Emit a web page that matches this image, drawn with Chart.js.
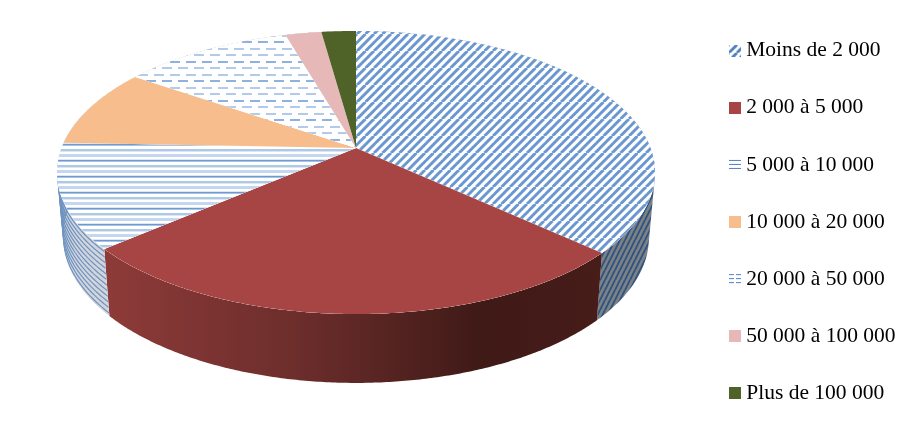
<!DOCTYPE html>
<html lang="fr">
<head>
<meta charset="utf-8">
<title>Répartition</title>
<style>html,body{margin:0;padding:0;background:#fff}#box{width:908px;height:422px;position:relative}</style>
<script src="https://cdn.jsdelivr.net/npm/chart.js@4/dist/chart.umd.min.js"></script>
</head>
<body>
<div id="box"><canvas id="c" width="908" height="422"></canvas></div>
<script>
const categories = ["Moins de 2 000","2 000 à 5 000","5 000 à 10 000","10 000 à 20 000","20 000 à 50 000","50 000 à 100 000","Plus de 100 000"];
const shares = [36.8, 26.9, 11.9, 9.0, 10.9, 2.3, 2.2];

function tile(w, h, paint) {
  const t = document.createElement('canvas'); t.width = w; t.height = h;
  paint(t.getContext('2d'), w, h);
  return t;
}
function diagTile(bg, fg, p, lw, hh, n) {
  return tile(p, hh, (g, w, h) => {
    g.fillStyle = bg; g.fillRect(0, 0, w, h);
    g.strokeStyle = fg; g.lineWidth = lw;
    const s = w / n;
    for (let i = -n; i <= n; i++) {
      g.beginPath(); g.moveTo(i * s, h); g.lineTo(i * s + w, 0); g.stroke();
    }
  });
}
const hatchTile = diagTile('#ffffff', '#6a97cf', 17, 3, 17, 2);
const wallHatchTile = diagTile('#7c8286', '#2f5380', 5, 1.9, 10, 1);
const linesTile = tile(8, 16, (g, w, h) => {
  g.fillStyle = '#fff'; g.fillRect(0, 0, w, h);
  [[0, 1, '#6d99d0'], [1, 1, '#a8c3e6'], [5, 2, '#aec8e8'], [7, 1, '#dbe6f4'], [10, 3, '#c5d7ee'], [15, 1, '#dbe6f4']].forEach(r => { g.fillStyle = r[2]; g.fillRect(0, r[0], w, r[1]); });
});
const dashTile = tile(16, 39, (g, w, h) => {
  g.fillStyle = '#fff'; g.fillRect(0, 0, w, h);
  const d = (x, y, c) => { g.fillStyle = c; g.fillRect(x, y, 10, 2); g.fillRect(x - 16, y, 10, 2); };
  [0, 1, 2, 3, 4, 5].forEach(r => {
    d(r % 2 ? 10 : 2, Math.round(r * 6.5) + 2, r % 3 === 0 ? '#8fb1dd' : '#b3cbe8');
  });
});

const ctx0 = document.getElementById('c').getContext('2d');
const pat = t => ctx0.createPattern(t, 'repeat');
const sliceFills = [pat(hatchTile), '#a64543', pat(linesTile), '#f7bd8d', pat(dashTile), '#e6b8b7', '#4f6228'];

const swatches = [
  tile(12, 12, (g) => { g.fillStyle = g.createPattern(diagTile('#ffffff', '#4f81bd', 8, 2.8, 8, 1), 'repeat'); g.fillRect(0, 0, 12, 12); }),
  tile(12, 12, (g) => { g.fillStyle = '#a64543'; g.fillRect(0, 0, 12, 12); }),
  tile(12, 12, (g) => { g.fillStyle = '#4f81bd'; [1, 5, 9].forEach(y => g.fillRect(0, y, 12, 1)); }),
  tile(12, 12, (g) => { g.fillStyle = '#f7bd8d'; g.fillRect(0, 0, 12, 12); }),
  tile(12, 12, (g) => { g.fillStyle = '#4f81bd'; [[0, 1], [7, 1], [0, 5], [7, 5], [0, 9], [7, 9]].forEach(p => g.fillRect(p[0], p[1], 5, 1)); }),
  tile(12, 12, (g) => { g.fillStyle = '#e6b8b7'; g.fillRect(0, 0, 12, 12); }),
  tile(12, 12, (g) => { g.fillStyle = '#4f6228'; g.fillRect(0, 0, 12, 12); })
];

/* perspective of the pie's top and bottom discs */
const persp = 0.1731;
const topDisc = { x0: 356, y0: 148, A: 294.5, B: 137.3 };
const baseDisc = { x0: 356, y0: 212.4, A: 288.5, B: 141 };
function proj(d, th) {
  const a = Math.sin(th), b = Math.cos(th), w = 1 + persp * b;
  return [d.x0 + d.A * a / w, d.y0 - d.B * b / w];
}
const STEP = Math.PI / 360;
function angles(t1, t2) {
  const out = []; const n = Math.max(1, Math.ceil((t2 - t1) / STEP));
  for (let i = 0; i <= n; i++) out.push(t1 + (t2 - t1) * i / n);
  return out;
}
function wallPath(g, list) {
  g.beginPath();
  for (let i = 0; i < list.length - 1; i++) {
    const q = [proj(topDisc, list[i]), proj(topDisc, list[i + 1]), proj(baseDisc, list[i + 1]), proj(baseDisc, list[i])];
    let s = 0;
    for (let k = 0; k < 4; k++) { const p = q[k], r = q[(k + 1) % 4]; s += p[0] * r[1] - r[0] * p[1]; }
    if (s < 0) q.reverse();
    g.moveTo(q[0][0], q[0][1]);
    for (let k = 1; k < 4; k++) g.lineTo(q[k][0], q[k][1]);
    g.closePath();
  }
}
const pie3d = {
  id: 'pie3d',
  beforeDatasetsDraw(chart) {
    const g = chart.ctx;
    const arcs = chart.getDatasetMeta(0).data;
    const spans = arcs.map(a => [a.startAngle + Math.PI / 2, a.endAngle + Math.PI / 2]);
    g.save();
    spans.forEach((sp, i) => {
      const list = angles(sp[0], sp[1]);
      wallPath(g, list);
      if (i === 0) {
        g.fillStyle = g.createPattern(wallHatchTile, 'repeat'); g.fill();
      } else if (i === 1) {
        const lg = g.createLinearGradient(104, 0, 600, 0);
        lg.addColorStop(0, '#8e3b39'); lg.addColorStop(0.4, '#6b2d2b');
        lg.addColorStop(0.76, '#3f1a17'); lg.addColorStop(1, '#471c19');
        g.fillStyle = lg; g.fill();
      } else if (i === 2) {
        g.fillStyle = '#d2d6dc'; g.fill();
        g.save(); g.clip();
        g.strokeStyle = '#6f93c0'; g.lineWidth = 1.2;
        for (let t = 0.04; t < 1.02; t += 0.0833) {
          g.beginPath();
          list.forEach((th, j) => {
            const p = proj(topDisc, th), q = proj(baseDisc, th);
            const x = p[0] + (q[0] - p[0]) * t, y = p[1] + (q[1] - p[1]) * t;
            if (j) g.lineTo(x, y); else g.moveTo(x, y);
          });
          g.stroke();
        }
        g.restore();
      } else {
        g.fillStyle = '#888'; g.fill();
      }
    });
    spans.forEach((sp, i) => {
      g.beginPath();
      g.moveTo(topDisc.x0, topDisc.y0);
      angles(sp[0], sp[1]).forEach(th => { const p = proj(topDisc, th); g.lineTo(p[0], p[1]); });
      g.closePath();
      g.fillStyle = '#fff'; g.fill();
      g.fillStyle = sliceFills[i]; g.fill();
    });
    g.restore();
    return false;
  }
};

new Chart(document.getElementById('c'), {
  type: 'pie',
  data: { labels: categories, datasets: [{ data: shares, backgroundColor: sliceFills, borderWidth: 0 }] },
  plugins: [pie3d],
  options: {
    responsive: false,
    animation: false,
    layout: { padding: { top: 2, right: 2.5, bottom: -20, left: 0 } },
    plugins: {
      tooltip: { enabled: false },
      legend: {
        position: 'right',
        align: 'center',
        labels: {
          usePointStyle: true,
          pointStyleWidth: 1,
          boxHeight: 12,
          padding: 35.6,
          color: '#000',
          font: { family: '"Liberation Serif", serif', size: 21.5, lineHeight: 1 },
          generateLabels: () => categories.map((t, i) => ({
            text: t, index: i, pointStyle: swatches[i], fillStyle: 'transparent',
            strokeStyle: 'transparent', lineWidth: 0, fontColor: '#000', hidden: false
          }))
        }
      }
    }
  }
});
</script>
</body>
</html>
